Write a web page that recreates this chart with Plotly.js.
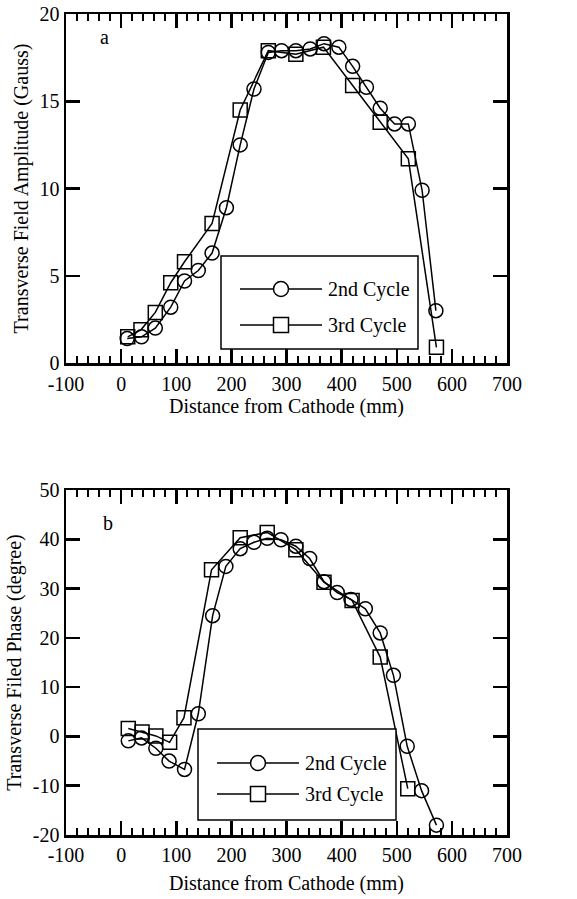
<!DOCTYPE html>
<html>
<head>
<meta charset="utf-8">
<script src="https://cdn.plot.ly/plotly-3.0.1.min.js"></script>
<style>
  html, body { margin: 0; padding: 0; background: #fff; }
  #chart { width: 577px; height: 899px; }
</style>
</head>
<body>
<div id="chart"></div>
<script>
// ---- Data ----
// Panel a: transverse field amplitude (Gauss)
const ampX2 = [11, 37, 62, 90, 115, 140, 165, 191, 216, 241, 267, 291, 317, 343, 368, 395, 420, 445, 470, 496, 521, 546, 571];
const ampY2 = [1.4, 1.5, 2.0, 3.2, 4.7, 5.3, 6.3, 8.9, 12.5, 15.7, 17.8, 17.9, 17.9, 18.0, 18.3, 18.1, 17.0, 15.8, 14.6, 13.7, 13.7, 9.9, 3.0];
const ampX3 = [12, 36, 62, 90, 115, 165, 216, 267, 317, 367, 420, 470, 521, 572];
const ampY3 = [1.5, 1.9, 2.9, 4.6, 5.8, 8.0, 14.5, 17.9, 17.7, 18.1, 15.9, 13.8, 11.7, 0.9];

// Panel b: transverse field phase (degree)
const phX2 = [13, 37, 63, 87, 115, 140, 166, 190, 216, 241, 265, 290, 317, 342, 368, 392, 417, 443, 470, 494, 519, 545, 572];
const phY2 = [-0.9, -0.3, -2.4, -5.0, -6.7, 4.6, 24.5, 34.5, 38.1, 39.4, 40.2, 39.9, 38.6, 36.1, 31.4, 29.2, 27.8, 25.9, 21.0, 12.4, -2.0, -11.0, -18.0];
const phX3 = [13, 38, 63, 88, 114, 164, 216, 265, 317, 368, 419, 470, 520];
const phY3 = [1.6, 0.9, 0.1, -1.2, 3.8, 33.8, 40.3, 41.4, 37.9, 31.3, 27.6, 16.1, -10.6];

const seriesNames = ["2nd Cycle", "3rd Cycle"];
const panelLabels = ["a", "b"];

// Tick labels
const xTickVals = [-100, 0, 100, 200, 300, 400, 500, 600, 700];
const xTickText = ["-100", "0", "100", "200", "300", "400", "500", "600", "700"];
const ampTickVals = [0, 5, 10, 15, 20];
const ampTickText = ["0", "5", "10", "15", "20"];
const phTickVals = [-20, -10, 0, 10, 20, 30, 40, 50];
const phTickText = ["-20", "-10", "0", "10", "20", "30", "40", "50"];

// ---- Styling ----
const FONT = "Liberation Serif, Times New Roman, serif";
const lineStyle = { color: "#000", width: 1.5 };
const circ = { symbol: "circle-open", size: 14, color: "#000", line: { width: 1.5, color: "#000" } };
const sq = { symbol: "square-open", size: 14, color: "#000", line: { width: 1.5, color: "#000" } };

const traces = [
  { x: ampX2, y: ampY2, name: seriesNames[0], mode: "lines+markers", line: lineStyle, marker: circ, xaxis: "x", yaxis: "y" },
  { x: ampX3, y: ampY3, name: seriesNames[1], mode: "lines+markers", line: lineStyle, marker: sq, xaxis: "x", yaxis: "y" },
  { x: phX2, y: phY2, name: seriesNames[0], mode: "lines+markers", line: lineStyle, marker: circ, xaxis: "x2", yaxis: "y2" },
  { x: phX3, y: phY3, name: seriesNames[1], mode: "lines+markers", line: lineStyle, marker: sq, xaxis: "x2", yaxis: "y2" }
];

const W = 577, H = 899;
function xaxisDef(anchor, labelStandoff, titleStandoff) {
  return {
    anchor: anchor,
    domain: [66 / W, 507 / W],
    range: [-100, 700],
    tickmode: "array", tickvals: xTickVals, ticktext: xTickText,
    ticks: "inside", ticklen: 14, tickwidth: 2.5, tickcolor: "#000",
    minor: { dtick: 20, ticks: "inside", ticklen: 7, tickwidth: 2, tickcolor: "#000" },
    showline: true, linewidth: 2.5, linecolor: "#000", mirror: "ticks",
    showgrid: false, zeroline: false,
    ticklabelstandoff: labelStandoff,
    tickfont: { family: FONT, size: 20, color: "#000" },
    title: { text: "Distance from Cathode (mm)", font: { family: FONT, size: 20, color: "#000" }, standoff: titleStandoff }
  };
}
function yaxisDef(anchor, dom, range, tv, tt, title) {
  return {
    anchor: anchor,
    domain: dom,
    range: range,
    tickmode: "array", tickvals: tv, ticktext: tt,
    ticks: "inside", ticklen: 14, tickwidth: 2.5, tickcolor: "#000",
    showline: true, linewidth: 2.5, linecolor: "#000", mirror: "ticks",
    showgrid: false, zeroline: false,
    tickfont: { family: FONT, size: 20, color: "#000" },
    title: { text: title, font: { family: FONT, size: 20, color: "#000" }, standoff: 6 }
  };
}

// ---- Hand-drawn legend boxes (paper coordinates) ----
const px = v => v / W;
const py = v => 1 - v / H;
const shapes = [];
const annotations = [];
function addLegend(left, top, right, bottom, rows) {
  shapes.push({ type: "rect", xref: "paper", yref: "paper", x0: px(left), x1: px(right), y0: py(bottom), y1: py(top),
    line: { color: "#000", width: 1.5 }, fillcolor: "#fff", layer: "above" });
  rows.forEach((r, i) => {
    const yc = r.y;
    const lx0 = left + 19, lx1 = left + 101, mx = left + 60, m = 7.5;
    shapes.push({ type: "line", xref: "paper", yref: "paper", x0: px(lx0), x1: px(lx1), y0: py(yc), y1: py(yc),
      line: { color: "#000", width: 1.5 }, layer: "above" });
    shapes.push({ type: i === 0 ? "circle" : "rect", xref: "paper", yref: "paper",
      x0: px(mx - m), x1: px(mx + m), y0: py(yc + m), y1: py(yc - m),
      line: { color: "#000", width: 1.5 }, fillcolor: "#fff", layer: "above" });
    annotations.push({ text: seriesNames[i], xref: "paper", yref: "paper", x: px(left + 105), y: py(yc),
      xanchor: "left", yanchor: "middle", showarrow: false, font: { family: FONT, size: 20, color: "#000" } });
  });
}
addLegend(221, 256, 418, 349, [{ y: 289 }, { y: 325 }]);
addLegend(198, 729, 396, 820, [{ y: 763 }, { y: 794 }]);

annotations.push({ text: panelLabels[0], xref: "paper", yref: "paper", x: px(98), y: py(24), showarrow: false,
  font: { family: FONT, size: 20, color: "#000" } });
annotations.push({ text: panelLabels[1], xref: "paper", yref: "paper", x: px(101), y: py(523), showarrow: false,
  font: { family: FONT, size: 20, color: "#000" } });

const layout = {
  width: W, height: H,
  margin: { l: 0, r: 0, t: 0, b: 0 },
  paper_bgcolor: "#fff", plot_bgcolor: "#fff",
  font: { family: FONT, color: "#000" },
  showlegend: false,
  xaxis: xaxisDef("y", 1, 1),
  yaxis: yaxisDef("x", [1 - 363 / H, 1 - 14 / H], [0, 20], ampTickVals, ampTickText, "Transverse Field Amplitude (Gauss)"),
  xaxis2: xaxisDef("y2", 0, 12),
  yaxis2: yaxisDef("x2", [1 - 835 / H, 1 - 490 / H], [-20, 50], phTickVals, phTickText, "Transverse Filed Phase (degree)"),
  shapes: shapes,
  annotations: annotations
};

Plotly.newPlot("chart", traces, layout, { displayModeBar: false, staticPlot: true });
</script>
</body>
</html>
